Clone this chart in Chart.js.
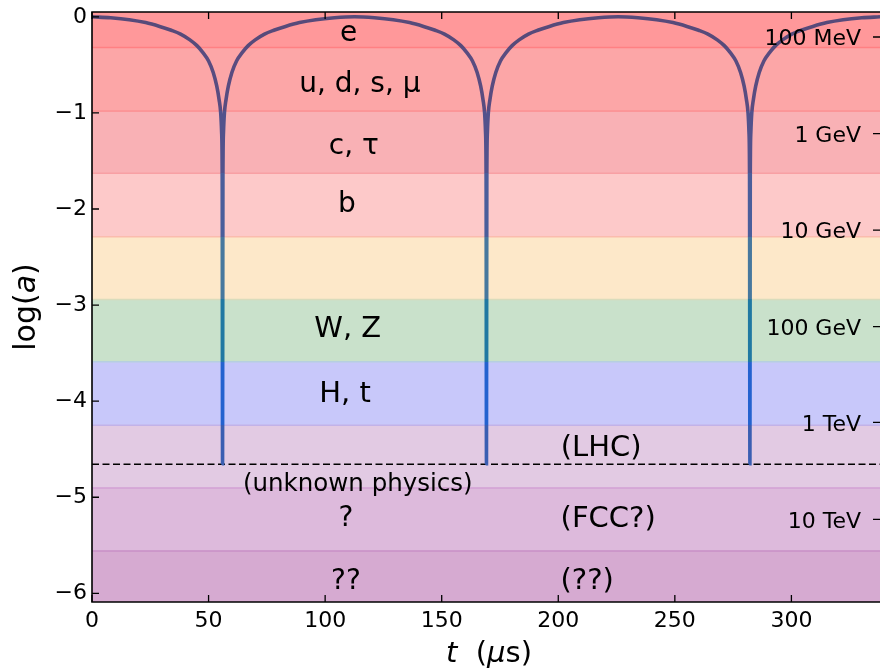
<!DOCTYPE html>
<html>
<head>
<meta charset="utf-8">
<script src="https://cdn.jsdelivr.net/npm/chart.js@4.4.0/dist/chart.umd.min.js"></script>
<style>
  body { margin: 0; background: #fff; }
  #wrap { width: 880px; height: 670px; }
</style>
</head>
<body>
<div id="wrap"><canvas id="myChart" width="880" height="670"></canvas></div>
<script>
// scale factor curve
var tValues = [0, 8, 16, 23, 29, 34, 38, 42, 45, 47.5, 50, 52, 53.5, 54.5, 55.2, 55.6, 55.85, 56,
  56.15, 56.4, 56.8, 57.5, 58.5, 60, 62, 64.5, 67, 70, 74, 78, 83, 89, 96, 104, 112.6,
  121.2, 129.2, 136.2, 142.2, 147.2, 151.2, 155.2, 158.2, 160.7, 163.2, 165.2, 166.7, 167.7, 168.4, 168.8, 169.05, 169.2,
  169.35, 169.6, 170.0, 170.7, 171.7, 173.2, 175.2, 177.7, 180.2, 183.2, 187.2, 191.2, 196.2, 202.2, 209.2, 217.2, 225.7,
  234.2, 242.2, 249.2, 255.2, 260.2, 264.2, 268.2, 271.2, 273.7, 276.2, 278.2, 279.7, 280.7, 281.4, 281.8, 282.05, 282.2,
  282.35, 282.6, 283.0, 283.7, 284.7, 286.2, 288.2, 290.7, 293.2, 296.2, 300.2, 304.2, 309.2, 315.2, 322.2, 330.2, 338];
var logA = [0, -0.01, -0.03, -0.06, -0.1, -0.14, -0.18, -0.24, -0.3, -0.37, -0.46, -0.58, -0.72, -0.86, -1.0, -1.2, -1.7, -4.65,
  -1.7, -1.2, -1.0, -0.86, -0.72, -0.58, -0.46, -0.37, -0.3, -0.24, -0.18, -0.14, -0.1, -0.06, -0.03, -0.01, 0,
  -0.01, -0.03, -0.06, -0.1, -0.14, -0.18, -0.24, -0.3, -0.37, -0.46, -0.58, -0.72, -0.86, -1.0, -1.2, -1.7, -4.65,
  -1.7, -1.2, -1.0, -0.86, -0.72, -0.58, -0.46, -0.37, -0.3, -0.24, -0.18, -0.14, -0.1, -0.06, -0.03, -0.01, 0,
  -0.01, -0.03, -0.06, -0.1, -0.14, -0.18, -0.24, -0.3, -0.37, -0.46, -0.58, -0.72, -0.86, -1.0, -1.2, -1.7, -4.65,
  -1.7, -1.2, -1.0, -0.86, -0.72, -0.58, -0.46, -0.37, -0.3, -0.24, -0.18, -0.14, -0.1, -0.06, -0.03, -0.01, 0];
var lhcLevel = -4.656;

var xTicks = [0, 50, 100, 150, 200, 250, 300];
var yTicks = [0, -1, -2, -3, -4, -5, -6];

// energy bands
var bandEdges = [0.05, -0.32, -0.979, -1.628, -2.289, -2.941, -3.591, -4.25, -4.903, -5.559, -6.09];
var bandColors = ["#ff989a", "#fca6a7", "#f9b1b5", "#fdc9c9", "#fde8c9", "#c9e1cb", "#c8c8fa", "#e2cae3", "#ddbadc", "#d6aad1"];
var edgeColors = ["#ff8083", "#fb8c8f", "#f8a0a4", "#fbbcae", "#d9dcbc", "#b6cfe0", "#c2b2e8", "#d2a0d4", "#c88fc6"];
var lineColors = ["#574a7a", "#594c80", "#52528c", "#4a5e9b", "#47789e", "#2078a2", "#2462cf", "#3a5eb2", "#3a5eb2", "#3a5eb2"];

var energyLabels = ["100 MeV", "1 GeV", "10 GeV", "100 GeV", "1 TeV", "10 TeV"];
var energyPos = [-0.21, -1.215, -2.22, -3.225, -4.22, -5.23];

var particleText = ["e", "u, d, s, μ", "c, τ", "b", "W, Z", "H, t", "(LHC)", "(unknown physics)", "?", "(FCC?)", "??", "(??)"];
var particleT = [110.1, 114.9, 112.3, 109.3, 109.7, 108.5, 218.4, 114.0, 108.9, 221.4, 108.9, 212.4];
var particleY = [-0.15, -0.677, -1.33, -1.927, -3.229, -3.906, -4.469, -4.844, -5.198, -5.208, -5.854, -5.854];
var particleSize = [28, 28, 28, 28, 29, 29, 29, 24.5, 28, 29, 28, 29];

var FONT = "'DejaVu Sans', sans-serif";
var TEXT_SHIFT = 2.5; // canvas 'middle' sits a bit high for DejaVu

function curveGradient(c) {
  var a = c.chart.chartArea;
  if (!a) return lineColors[0];
  var y = c.chart.scales.y;
  var g = c.chart.ctx.createLinearGradient(0, a.top, 0, a.bottom);
  var h = a.bottom - a.top;
  for (var i = 0; i < lineColors.length; i++) {
    var p0 = Math.min(1, Math.max(0, (y.getPixelForValue(bandEdges[i]) - a.top) / h));
    var p1 = Math.min(1, Math.max(0, (y.getPixelForValue(bandEdges[i + 1]) - a.top) / h));
    g.addColorStop(p0, lineColors[i]);
    g.addColorStop(p1, lineColors[i]);
  }
  return g;
}

var backdrop = {
  id: 'backdrop',
  beforeDatasetsDraw: function (chart) {
    var ctx = chart.ctx, a = chart.chartArea, y = chart.scales.y;
    ctx.save();
    ctx.beginPath();
    ctx.rect(a.left, a.top, a.right - a.left, a.bottom - a.top);
    ctx.clip();
    for (var i = 0; i < bandColors.length; i++) {
      var top = y.getPixelForValue(bandEdges[i]);
      var bot = y.getPixelForValue(bandEdges[i + 1]);
      ctx.fillStyle = bandColors[i];
      ctx.fillRect(a.left, top, a.right - a.left, bot - top);
    }
    ctx.lineWidth = 1.5;
    for (i = 0; i < edgeColors.length; i++) {
      var py = y.getPixelForValue(bandEdges[i + 1]);
      ctx.strokeStyle = edgeColors[i];
      ctx.beginPath();
      ctx.moveTo(a.left, py);
      ctx.lineTo(a.right, py);
      ctx.stroke();
    }
    ctx.restore();
  },
  afterDatasetsDraw: function (chart) {
    var ctx = chart.ctx, a = chart.chartArea, x = chart.scales.x, y = chart.scales.y;
    ctx.save();
    ctx.fillStyle = '#000';
    ctx.textAlign = 'center';
    ctx.textBaseline = 'middle';
    for (var i = 0; i < particleText.length; i++) {
      ctx.font = particleSize[i] + 'px ' + FONT;
      ctx.fillText(particleText[i], x.getPixelForValue(particleT[i]), y.getPixelForValue(particleY[i]) + TEXT_SHIFT);
    }
    // energy labels on the right, inside
    ctx.font = '22px ' + FONT;
    ctx.textAlign = 'right';
    for (i = 0; i < energyLabels.length; i++) {
      ctx.fillText(energyLabels[i], a.right - 19, y.getPixelForValue(energyPos[i]) + TEXT_SHIFT);
    }
    // frame
    ctx.strokeStyle = '#000';
    ctx.lineWidth = 1.6;
    ctx.beginPath();
    ctx.moveTo(a.right + 2, a.top);
    ctx.lineTo(a.left, a.top);
    ctx.lineTo(a.left, a.bottom);
    ctx.lineTo(a.right + 2, a.bottom);
    ctx.stroke();
    // inward ticks
    ctx.lineWidth = 1.3;
    ctx.beginPath();
    xTicks.forEach(function (v) {
      var px = x.getPixelForValue(v);
      ctx.moveTo(px, a.bottom); ctx.lineTo(px, a.bottom - 7);
      ctx.moveTo(px, a.top); ctx.lineTo(px, a.top + 7);
    });
    yTicks.forEach(function (v) {
      var py = y.getPixelForValue(v);
      ctx.moveTo(a.left, py); ctx.lineTo(a.left + 7, py);
    });
    energyPos.forEach(function (v) {
      var py = y.getPixelForValue(v);
      ctx.moveTo(a.right, py); ctx.lineTo(a.right - 7, py);
    });
    ctx.stroke();
    ctx.restore();
  },
  afterDraw: function (chart) {
    var ctx = chart.ctx, a = chart.chartArea;
    ctx.save();
    ctx.fillStyle = '#000';
    ctx.textBaseline = 'middle';
    ctx.textAlign = 'left';
    // x title: t  (μs)
    var up = '29px ' + FONT, it = 'italic 29px ' + FONT;
    var parts = [["t", it], ["  (", up], ["μ", it], ["s)", up]];
    var w = 0;
    parts.forEach(function (p) { ctx.font = p[1]; w += ctx.measureText(p[0]).width; });
    var cx = (a.left + a.right) / 2 + 3 - w / 2;
    parts.forEach(function (p) { ctx.font = p[1]; ctx.fillText(p[0], cx, 654); cx += ctx.measureText(p[0]).width; });
    // y title: log(a)
    ctx.translate(27, 307);
    ctx.rotate(-Math.PI / 2);
    up = '30px ' + FONT; it = 'italic 30px ' + FONT;
    parts = [["log(", up], ["a", it], [")", up]];
    w = 0;
    parts.forEach(function (p) { ctx.font = p[1]; w += ctx.measureText(p[0]).width; });
    cx = -w / 2;
    parts.forEach(function (p) { ctx.font = p[1]; ctx.fillText(p[0], cx, 0); cx += ctx.measureText(p[0]).width; });
    ctx.restore();
  }
};

new Chart("myChart", {
  type: "line",
  data: {
    datasets: [{
      data: tValues.map(function (t, i) { return { x: t, y: logA[i] }; }),
      borderColor: curveGradient,
      borderWidth: 3.6,
      pointRadius: 0,
      cubicInterpolationMode: 'monotone',
      fill: false
    }, {
      data: [{ x: 0, y: lhcLevel }, { x: 338, y: lhcLevel }],
      borderColor: '#000',
      borderWidth: 1.6,
      borderDash: [7, 3.5],
      pointRadius: 0,
      fill: false
    }]
  },
  options: {
    responsive: false,
    animation: false,
    layout: { padding: { top: 12, right: 0, left: 0, bottom: 0 } },
    plugins: { legend: { display: false }, tooltip: { enabled: false } },
    scales: {
      x: {
        type: 'linear',
        min: 0,
        max: 338,
        afterBuildTicks: function (s) { s.ticks = xTicks.map(function (v) { return { value: v }; }); },
        afterFit: function (s) { s.height = 68; s.paddingLeft = 0; s.paddingRight = 0; },
        grid: { display: false, drawTicks: false },
        border: { display: false },
        ticks: { color: '#000', padding: 6, maxRotation: 0, autoSkip: false, font: { family: FONT, size: 22 } }
      },
      y: {
        min: -6.09,
        max: 0.05,
        afterBuildTicks: function (s) { s.ticks = yTicks.map(function (v) { return { value: v }; }); },
        afterFit: function (s) { s.width = 92; s.paddingTop = 0; s.paddingBottom = 0; },
        grid: { display: false, drawTicks: false },
        border: { display: false },
        ticks: {
          color: '#000', padding: 5, autoSkip: false, font: { family: FONT, size: 22 },
          callback: function (v) { return v < 0 ? '\u2212' + Math.abs(v) : String(v); }
        }
      }
    }
  },
  plugins: [backdrop]
});
</script>
</body>
</html>
